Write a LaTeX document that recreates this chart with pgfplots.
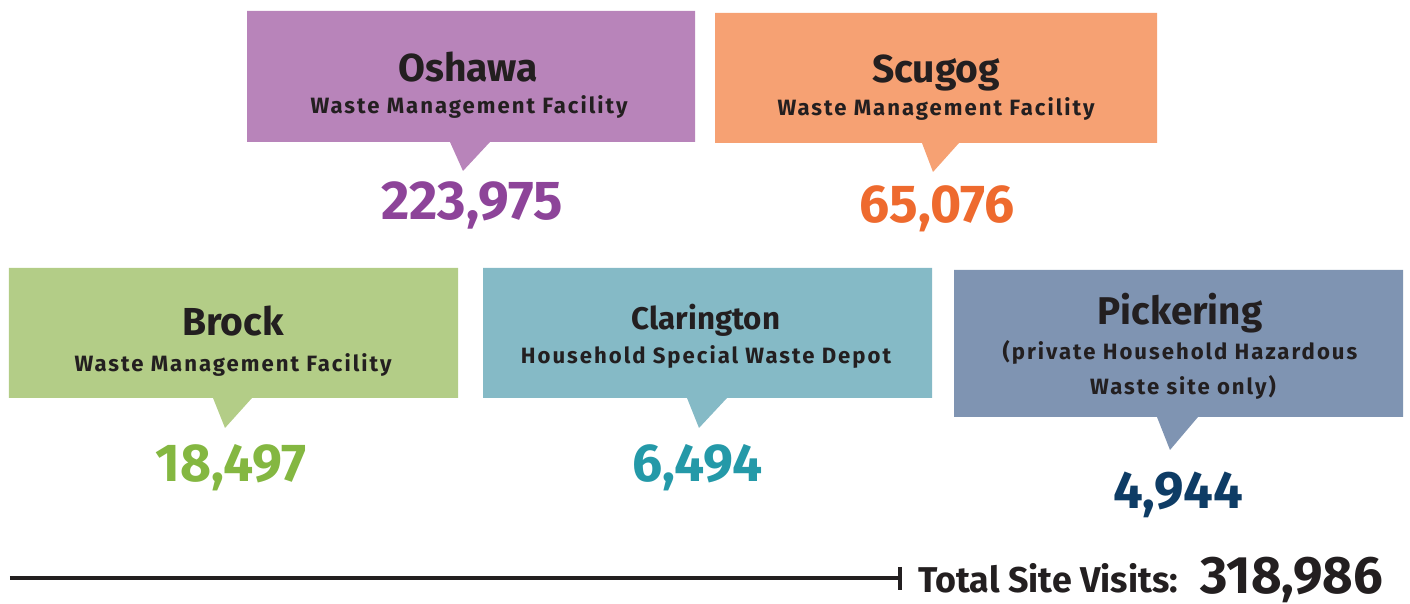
\documentclass[border=0pt]{standalone}
\usepackage{pgfplots}
\pgfplotsset{compat=1.18}
\usepackage{fontspec}
\setmainfont{Fira Sans}
\newfontfamily\spaced{Fira Sans}[LetterSpace=9]
\definecolor{oshbox}{HTML}{B884BA}
\definecolor{oshnum}{HTML}{8D4499}
\definecolor{scubox}{HTML}{F6A173}
\definecolor{scunum}{HTML}{EE6A2E}
\definecolor{brobox}{HTML}{B3CD87}
\definecolor{bronum}{HTML}{84B741}
\definecolor{clabox}{HTML}{85BAC6}
\definecolor{clanum}{HTML}{2499A8}
\definecolor{picbox}{HTML}{7F94B2}
\definecolor{picnum}{HTML}{0E3C65}
\definecolor{ink}{HTML}{231F20}
\newcommand{\fs}[1]{\fontsize{#1}{#1}\selectfont}
\begin{document}
\begin{tikzpicture}[lab/.style={text=ink, inner sep=0pt, outer sep=0pt}]
\begin{axis}[
  width=14.1cm, height=5.98cm, scale only axis,
  xmin=0, xmax=1410, ymin=0, ymax=598, y dir=reverse,
  axis lines=none, clip=false,
]
% invisible frame so the page covers the whole axis area
\addplot[draw=none, forget plot] coordinates {(0,0)(1410,598)};
% boxes with pointers
\addplot[fill=oshbox, draw=none] coordinates {(247,11)(695,11)(695,142)(490,142)(463,171)(450,142)(247,142)} -- cycle;
\addplot[fill=scubox, draw=none] coordinates {(715,13)(1157,13)(1157,143)(959,143)(933,172)(922,143)(715,143)} -- cycle;
\addplot[fill=brobox, draw=none] coordinates {(9,268)(458,268)(458,398)(252,398)(225,428)(213,398)(9,398)} -- cycle;
\addplot[fill=clabox, draw=none] coordinates {(483,268)(932,268)(932,398)(727,398)(699,428)(687,398)(483,398)} -- cycle;
\addplot[fill=picbox, draw=none] coordinates {(954,270)(1403,270)(1403,417)(1198,417)(1170,450)(1157,417)(954,417)} -- cycle;
% total line
\addplot[ink, line width=1.3pt] coordinates {(10,578)(900,578)};
\addplot[ink, line width=1.4pt] coordinates {(900,567)(900,590)};

% titles
\node[lab, anchor=base, font=\bfseries\fs{11.1}] at (axis cs:468,82) {Oshawa};
\node[lab, anchor=base, font=\spaced\bfseries\fs{6.3}] at (axis cs:469,114) {Waste Management Facility};
\node[lab, anchor=base, font=\bfseries\fs{11.1}] at (axis cs:936,83) {Scugog};
\node[lab, anchor=base, font=\spaced\bfseries\fs{6.3}] at (axis cs:936,116) {Waste Management Facility};
\node[lab, anchor=base, font=\bfseries\fs{11.1}] at (axis cs:233,336) {Brock};
\node[lab, anchor=base, font=\spaced\bfseries\fs{6.3}] at (axis cs:233,372) {Waste Management Facility};
\node[lab, anchor=base, font=\bfseries\fs{8.9}] at (axis cs:706,330) {Clarington};
\node[lab, anchor=base, font=\spaced\bfseries\fs{6.3}] at (axis cs:706,364) {Household Special Waste Depot};
\node[lab, anchor=base, font=\bfseries\fs{11.0}] at (axis cs:1180,325) {Pickering};
\node[lab, anchor=base, font=\spaced\bfseries\fs{6.3}] at (axis cs:1180,360) {(private Household Hazardous};
\node[lab, anchor=base, font=\spaced\bfseries\fs{6.3}] at (axis cs:1183,395) {Waste site only)};

% values
\node[lab, anchor=base, text=oshnum, font=\bfseries\fs{15.6}] at (axis cs:472,220) {223,975};
\node[lab, anchor=base, text=scunum, font=\bfseries\fs{15.2}] at (axis cs:937,223) {65,076};
\node[lab, anchor=base, text=bronum, font=\bfseries\fs{15.2}] at (axis cs:231,482) {18,497};
\node[lab, anchor=base, text=clanum, font=\bfseries\fs{15.2}] at (axis cs:698,482) {6,494};
\node[lab, anchor=base, text=picnum, font=\bfseries\fs{15.0}] at (axis cs:1178,509) {4,944};

\node[lab, anchor=base west, font=\bfseries\fs{10.2}] at (axis cs:918,593) {Total Site Visits:};
\node[lab, anchor=base east, font=\bfseries\fs{15}] at (axis cs:1383,594) {318,986};
\end{axis}
\end{tikzpicture}
\end{document}
